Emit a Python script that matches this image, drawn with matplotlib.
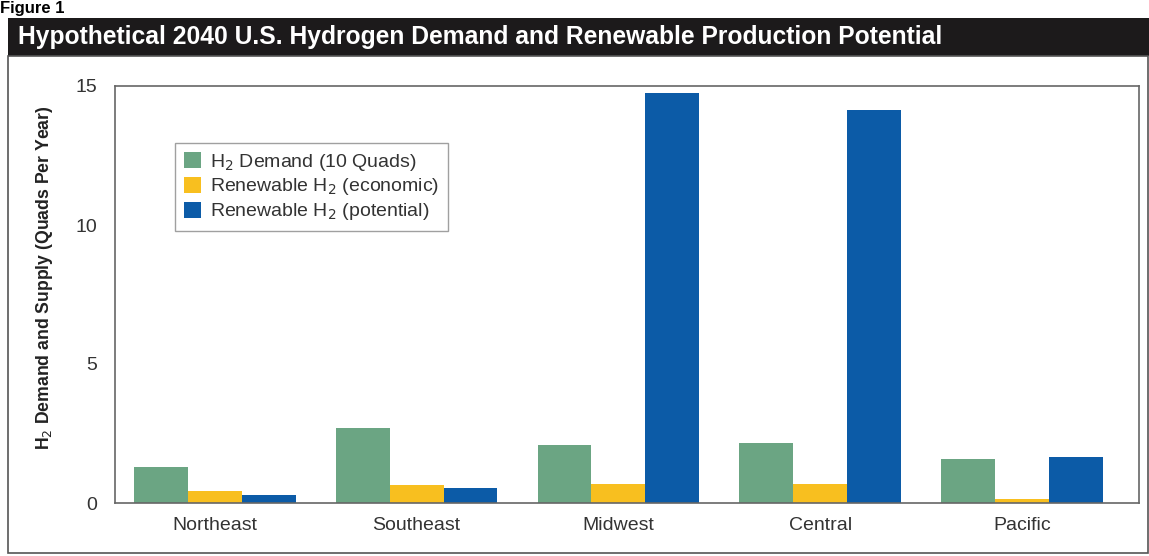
# Hypothetical 2040 U.S. hydrogen demand vs renewable production potential
import matplotlib
matplotlib.use("Agg")
from matplotlib import pyplot as plt
from matplotlib.patches import Rectangle
import numpy as np

plt.rcParams['font.family'] = ['Liberation Sans', 'DejaVu Sans']

# data
regions = ["Northeast", "Southeast", "Midwest", "Central", "Pacific"]
demand = [1.31, 2.69, 2.09, 2.16, 1.58]
renew_econ = [0.44, 0.63, 0.68, 0.68, 0.15]
renew_pot = [0.30, 0.55, 14.76, 14.13, 1.65]
series_labels = ["H$_2$ Demand (10 Quads)",
                 "Renewable H$_2$ (economic)",
                 "Renewable H$_2$ (potential)"]
colors = ["#6ba583", "#f8bf1f", "#0c5ba7"]

fig = plt.figure(figsize=(11.49, 5.56), dpi=100)

# title bar + frame
fig.patches.append(Rectangle((8/1149, 1-56/556), 1, 38/556, transform=fig.transFigure,
                             facecolor="#1c1a1b", edgecolor="none", zorder=0))
fig.patches.append(Rectangle((8/1149, 3/556), 1140/1149, 1-59/556, transform=fig.transFigure,
                             facecolor="none", edgecolor="#555555", lw=1.2, zorder=0))
fig.text(18/1149, 1-37/556, "Hypothetical 2040 U.S. Hydrogen Demand and Renewable Production Potential",
         color="white", fontsize=17.7, fontweight="bold", va="center", ha="left")
fig.text(0, 1-1/556, "Figure 1", color="black", fontsize=12, fontweight="bold",
         va="top", ha="left")

ax = fig.add_axes([115/1149, 1-503/556, 1024/1149, 417/556])
x = np.arange(len(regions))
w = 0.267
for i, vals in enumerate([demand, renew_econ, renew_pot]):
    ax.bar(x + (i-1)*w, vals, width=w, color=colors[i], label=series_labels[i])

ax.set_xlim(-0.495, 4.58)
ax.set_ylim(0, 15)
ax.set_yticks([0, 5, 10, 15])
ax.set_xticks(x)
ax.set_xticklabels(regions)
ax.tick_params(length=0, labelsize=14, colors="#333333", pad=10)
ax.tick_params(axis="y", pad=13)
for s in ax.spines.values():
    s.set_color("#666666")
    s.set_linewidth(1.2)
ax.set_ylabel("H$_2$ Demand and Supply (Quads Per Year)", fontsize=12.7,
              fontweight="bold", color="#222222")
ax.yaxis.set_label_coords(-60/1024, 0.54)

leg = ax.legend(loc="upper left", bbox_to_anchor=(0.049, 0.887), fontsize=14,
                frameon=True, fancybox=False, edgecolor="#888888",
                handlelength=0.9, handleheight=0.9, handletextpad=0.45,
                labelspacing=0.2, borderpad=0.45)
leg.get_frame().set_linewidth(1.0)
for t in leg.get_texts():
    t.set_color("#333333")

plt.savefig("out.png", dpi=100)
